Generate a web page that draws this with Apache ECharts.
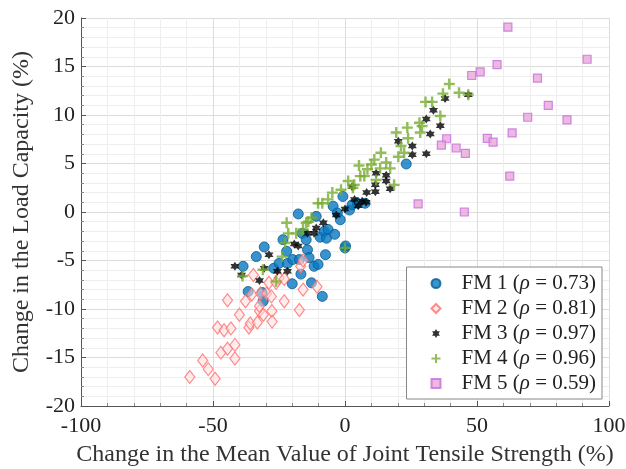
<!DOCTYPE html>
<html><head><meta charset="utf-8">
<script src="https://cdn.jsdelivr.net/npm/echarts@6/dist/echarts.min.js"></script>
<style>html,body{margin:0;padding:0;background:#fff}#c{width:626px;height:469px}</style>
</head><body><div id="c"></div>
<script>
const seriesNames = ['FM 1','FM 2','FM 3','FM 4','FM 5'];
const rhoValues = ['0.73','0.81','0.97','0.96','0.59'];
const xTicks = {min:-100, max:100, interval:50};
const yTicks = {min:-20, max:20, interval:5};

const fm1 = [[-38.6,-5.6],[-36.7,-8.2],[-33.6,-4.6],[-31.4,-8.3],[-31,-9.2],[-30.6,-3.6],[-27.0,-5.8],[-25.0,-5.3],[-23.5,-2.85],[-22.1,-4.05],[-21.8,-5.3],[-20.0,-7.4],[-19.8,-4.9],[-17.7,-0.2],[-17.3,-4.9],[-16.7,-6.4],[-16.2,-2.2],[-14.7,-2.85],[-14.2,-3.9],[-13.6,-4.7],[-12.7,-7.3],[-11.7,-5.6],[-10.9,-0.45],[-10.2,-5.4],[-9.4,-2.6],[-8.6,-8.7],[-7.9,-2.0],[-7.4,-4.4],[-7.0,-2.7],[-6.4,-1.8],[-4.5,0.6],[-3.9,-2.3],[-2.9,-0.1],[-1.8,-0.8],[-0.8,1.6],[0,-3.7],[0.2,-3.5],[1.7,0.2],[2.7,0.75],[4.7,0.9],[7.6,0.9],[23.2,4.95]];
const fm2 = [[-58.8,-17.0],[-53.9,-15.3],[-51.8,-16.2],[-49.2,-17.2],[-47.0,-14.5],[-44.5,-14.1],[-41.7,-13.7],[-41.7,-15.1],[-48.3,-11.9],[-45.8,-12.2],[-43.2,-12.0],[-44.5,-9.1],[-40.0,-10.6],[-37.7,-9.2],[-36.4,-11.9],[-35.9,-11.5],[-35.3,-8.5],[-34.7,-6.5],[-33.2,-11.4],[-32.4,-10.2],[-32.0,-8.4],[-32.4,-9.7],[-30.9,-10.6],[-29.7,-8.4],[-28.8,-7.3],[-27.7,-10.2],[-27.6,-11.3],[-27.9,-8.7],[-26.1,-7.3],[-25.0,-6.8],[-23.0,-9.2],[-23.0,-6.9],[-17.3,-10.1],[-16.8,-5.6],[-15.9,-5.0],[-15.9,-8.0],[-10.6,-7.7]];
const fm3 = [[-41.7,-5.6],[-39.2,-6.5],[-32.4,-7.05],[-30.6,-5.8],[-28.8,-4.4],[-25.6,-6.1],[-21.8,-6.1],[-19.2,-3.3],[-17.7,-3.5],[-14.2,-2.2],[-11.7,-2.2],[-10.9,-1.65],[-8.2,-1.1],[-3.3,-0.3],[0,0.3],[2.7,2.6],[3.6,1.3],[5.0,0.65],[6.5,1.1],[8.0,1.0],[8.2,2.0],[11.5,2.8],[11.5,2.1],[11.8,4.0],[15.6,3.8],[15.6,3.2],[17.1,2.4],[20.2,7.3],[25.5,6.8],[25.5,5.9],[30.8,9.6],[30.8,6.0],[32.3,8.05],[33.5,10.5],[36.1,8.9],[37.9,11.7],[46.7,12.1]];
const fm4 = [[-38.8,-6.6],[-31.1,-5.95],[-26.1,-7.15],[-23.8,-4.6],[-22.7,-3.2],[-22.1,-1.1],[-21.5,-2.2],[-18.5,-2.2],[-15.9,-1.8],[-14.7,-1.1],[-13.9,-1.0],[-12.7,-0.6],[-10.2,0.9],[-8.6,0.9],[-6.4,1.3],[-4.8,2.0],[-1.5,2.3],[0,-3.7],[1.2,3.2],[3.0,2.5],[3.5,2.8],[5.3,4.8],[5.8,3.7],[7.3,3.7],[8.5,4.4],[10.0,4.9],[11.1,5.4],[11.8,3.3],[13.3,4.5],[13.6,6.1],[15.6,5.1],[17.1,4.5],[18.6,2.8],[19.4,8.2],[20.2,5.7],[21.2,6.8],[22.4,6.1],[23.6,8.7],[23.9,7.6],[28.2,9.2],[28.5,8.2],[29.2,8.85],[30.5,11.35],[33.0,11.35],[36.1,9.9],[37.1,12.2],[39.5,13.2],[43.2,12.3],[46.7,12.1]];
const fm5 = [[61.7,19.05],[91.7,15.75],[57.6,15.2],[51.2,14.45],[48.0,14.07],[72.9,13.8],[77.0,11.0],[69.2,9.77],[84.1,9.5],[63.3,8.15],[53.9,7.6],[56.1,7.2],[38.5,7.55],[36.5,6.9],[42.1,6.6],[45.6,6.05],[62.4,3.7],[27.7,0.83],[45.2,0.0]];

const hexagram = 'path://M0,-10L2.887,-5L8.66,-5L5.774,0L8.66,5L2.887,5L0,10L-2.887,5L-8.66,5L-5.774,0L-8.66,-5L-2.887,-5Z';
const plus = 'path://M-1.1,-5H1.1V-1.1H5V1.1H1.1V5H-1.1V1.1H-5V-1.1H-1.1Z';

const serif = 'Liberation Serif';
const styles = [
  {data:fm1, symbol:'circle', size:10, itemStyle:{color:'#0a78c0', borderColor:'#005d96', borderWidth:1}},
  {data:fm2, symbol:'diamond', size:[10,13], itemStyle:{color:'rgba(255,220,220,0.65)', borderColor:'#ff6f6f', borderWidth:1.2}},
  {data:fm3, symbol:hexagram, size:9, itemStyle:{color:'#000000'}},
  {data:fm4, symbol:plus, size:11, itemStyle:{color:'#77ac30'}},
  {data:fm5, symbol:'rect', size:8, itemStyle:{color:'#eaa8d8', borderColor:'#c56de0', borderWidth:1.2}}
];

const axisCommon = {
  axisLine:{show:true, onZero:false, lineStyle:{color:'#555', width:1}},
  axisTick:{show:true, inside:true, length:5, lineStyle:{color:'#555'}},
  minorTick:{show:true, splitNumber:5, length:3, lineStyle:{color:'#888'}},
  splitLine:{show:true, lineStyle:{color:'#dcdcdc', width:1}},
  minorSplitLine:{show:true, lineStyle:{color:'#eeeeee', width:1}},
  axisLabel:{fontFamily:serif, fontSize:22, color:'#222'},
  nameTextStyle:{fontFamily:serif, fontSize:24, color:'#333'}
};

const option = {
  animation:false,
  backgroundColor:'#fff',
  grid:{left:81, right:17, top:18, bottom:63, outerBoundsMode:'none', containLabel:false},
  xAxis:Object.assign({}, axisCommon, {type:'value', min:xTicks.min, max:xTicks.max, interval:xTicks.interval,
    name:'Change in the Mean Value of Joint Tensile Strength (%)', nameLocation:'middle', nameGap:37,
    axisLabel:Object.assign({}, axisCommon.axisLabel, {margin:9})}),
  yAxis:Object.assign({}, axisCommon, {type:'value', min:yTicks.min, max:yTicks.max, interval:yTicks.interval,
    name:'Change in the Load Capacity (%)', nameLocation:'middle', nameGap:47,
    axisLabel:Object.assign({}, axisCommon.axisLabel, {margin:6})}),
  legend:{
    orient:'vertical', right:24, bottom:70, itemGap:4, itemWidth:9, itemHeight:9,
    backgroundColor:'#fff', borderColor:'#888', borderWidth:1, padding:[6,6,5,24],
    data:seriesNames,
    formatter:function(name){ const i = seriesNames.indexOf(name); return name + ' ({i|\u03c1} = ' + rhoValues[i] + ')'; },
    textStyle:{fontFamily:serif, fontSize:21, color:'#222', padding:[0,0,0,16],
      rich:{i:{fontFamily:serif, fontSize:21, fontStyle:'italic', color:'#222'}}}
  },
  series: styles.map((s,i)=>({
    name:seriesNames[i], type:'scatter', data:s.data, symbol:s.symbol, symbolSize:s.size,
    itemStyle:s.itemStyle, z:2+i
  }))
};
echarts.init(document.getElementById('c')).setOption(option);
</script></body></html>
